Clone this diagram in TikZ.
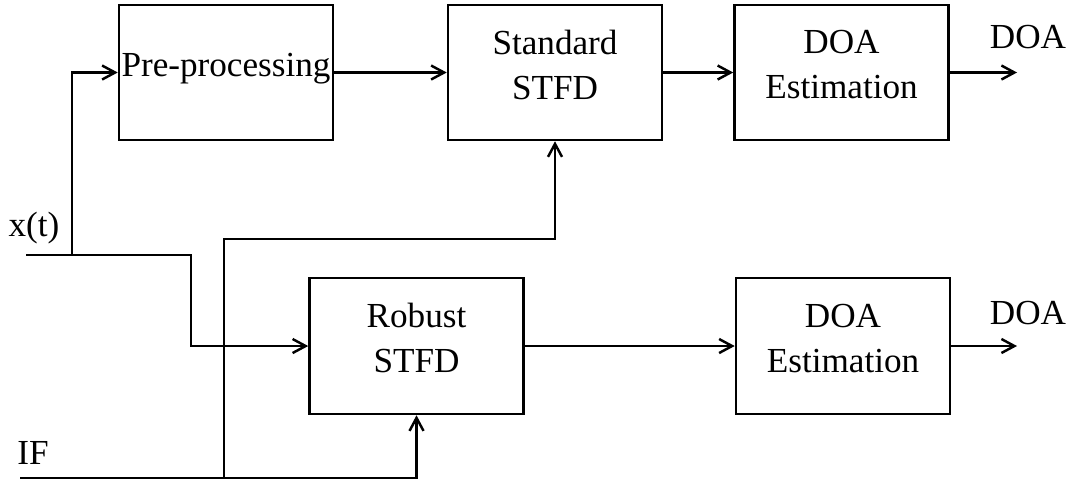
\documentclass[tikz,border=0pt]{standalone}
\usepackage{fontspec}
\setmainfont{Liberation Serif}
\usetikzlibrary{arrows.meta}
\begin{document}
\begin{tikzpicture}[x=0.01cm, y=-0.01cm, line width=0.7pt,
    >={Straight Barb[length=1.3mm,width=1.4mm]},
    block/.style={draw, minimum width=2.14cm, minimum height=1.35cm, inner sep=0pt,
        text depth=0.16cm, align=center, font=\fontsize{10}{12.8}\selectfont},
    lbl/.style={inner sep=0pt, font=\fontsize{10}{12.8}\selectfont}]
    \useasboundingbox (0,0) rectangle (1071,481);

    % upper branch
    \node[block] (pre) at (226,72.5) {Pre-processing};
    \node[block] (std) at (555,72.5) {Standard\\STFD};
    \node[block] (doa1) at (841.5,72.5) {DOA\\Estimation};

    % lower branch
    \node[block, minimum height=1.36cm] (rob) at (416.5,346) {Robust\\STFD};
    \node[block, minimum height=1.36cm] (doa2) at (843,346) {DOA\\Estimation};

    % inputs and outputs
    \node[lbl] (xlbl) at (34,228) {x(t)};
    \node[lbl] (iflbl) at (33,453) {IF};
    \node[lbl] (doalbl1) at (1028,37) {DOA};
    \node[lbl] (doalbl2) at (1028,313) {DOA};

    \coordinate (xin) at (26,255);
    \coordinate (xsplit) at (72,255);
    \coordinate (xbend) at (191,255);
    \coordinate (ifin) at (20,478);
    \coordinate (ifsplit) at (224,478);
    \coordinate (ifbend) at (224,239);
    \coordinate (out1) at (1017,72.5);
    \coordinate (out2) at (1017,346);

    % x(t) to both branches
    \draw (xin) -- (xsplit);
    \draw[->] (xsplit) |- (pre.west);
    \draw[->] (xsplit) -- (xbend) |- (rob.west);

    % IF to both STFD blocks
    \draw[->] (ifin) -| (rob.south);
    \draw[->] (ifsplit) -- (ifbend) -| (std.south);

    % chains
    \draw[->] (pre.east) -- (std.west);
    \draw[->] (std.east) -- (doa1.west);
    \draw[->] (doa1.east) -- (out1);
    \draw[->] (rob.east) -- (doa2.west);
    \draw[->] (doa2.east) -- (out2);
\end{tikzpicture}
\end{document}
